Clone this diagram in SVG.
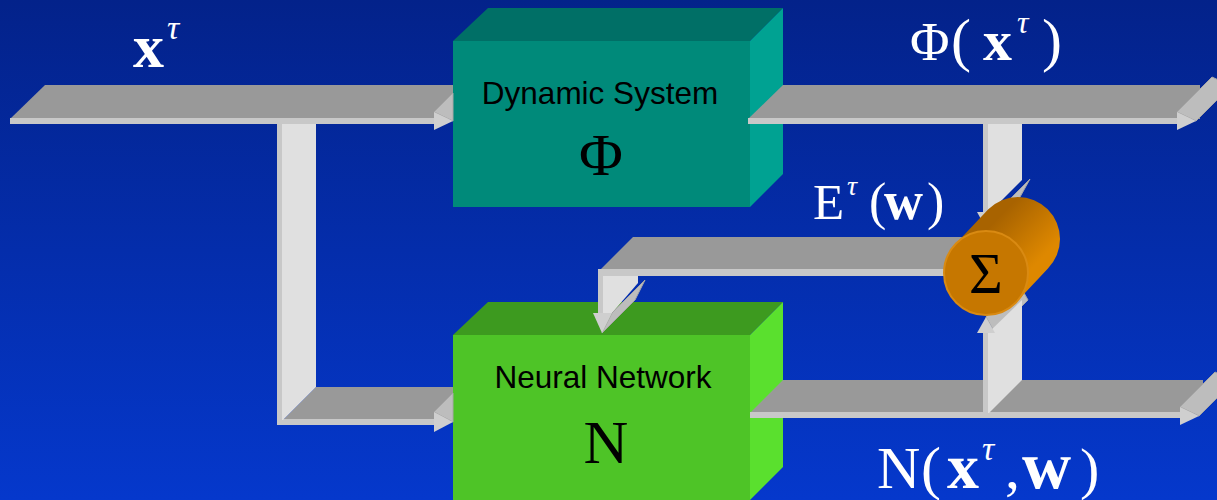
<svg xmlns="http://www.w3.org/2000/svg" width="1217" height="500" viewBox="0 0 1217 500">
<defs>
<linearGradient id="bg" x1="0" y1="0" x2="0" y2="1">
<stop offset="0" stop-color="#03228a"/>
<stop offset="1" stop-color="#0538cc"/>
</linearGradient>
<linearGradient id="cylBody" x1="0" y1="0" x2="1" y2="1">
<stop offset="0.3" stop-color="#a86300"/>
<stop offset="0.7" stop-color="#de8800"/>
</linearGradient>
<style>
.face{fill:#999999}
.strip{fill:#c8c8c8}
.bar{fill:#e0e0e0}
.barEdge{fill:#c8c8c8}
.head{fill:#cfcfcf}
.headX{fill:#bdbdbd;stroke:#a6a6a6;stroke-width:1}
.lbl{font-family:"Liberation Serif","Times New Roman",serif;fill:#ffffff}
.b{font-weight:bold}
.i{font-style:italic}
.sans{font-family:"Liberation Sans",Arial,sans-serif;font-size:31.5px;fill:#000;text-anchor:middle}
.sym{font-family:"Liberation Serif","Times New Roman",serif;fill:#000;text-anchor:middle}
</style>
</defs>
<rect x="0" y="0" width="1217" height="500" fill="url(#bg)"/>

<g id="node-dynamic-system">
<polygon fill="#006f66" points="453,41 488,8 783,8 750,41"/>
<polygon fill="#00a292" points="750,41 783,8 783,174 750,207"/>
<rect x="453" y="41" width="297" height="166" fill="#008a7a"/>
<text class="sans" x="600" y="104">Dynamic System</text>
<text class="sym" x="601" y="175" font-size="60">Φ</text>
</g>

<g id="node-neural-network">
<polygon fill="#3d9a1f" points="453,335 488,302 783,302 750,335"/>
<polygon fill="#5ae02e" points="750,335 783,302 783,467 750,500"/>
<rect x="453" y="335" width="297" height="165" fill="#4ec427"/>
<text class="sans" x="603" y="388">Neural Network</text>
<text class="sym" x="606" y="463" font-size="62">N</text>
</g>

<g id="connectors">
<g id="arrow-in-top">
<polygon class="face" points="10,119 45,85 453,85 453,119"/>
<rect class="strip" x="10" y="118" width="426" height="6"/>
<polygon class="headX" points="434,112 453,93 453,121"/>
<polygon class="head" points="434,112 453,121 434,130"/>
</g>
<g id="arrow-in-bottom">
<polygon class="face" points="283,420 316,387 453,387 453,420"/>
<rect class="strip" x="277" y="419" width="160" height="6"/>
<polygon class="bar" points="282,124 316,124 316,387 283,420 282,420"/>
<rect class="barEdge" x="277" y="124" width="5" height="301"/>
<polygon class="headX" points="434,412 453,393 453,422"/>
<polygon class="head" points="434,412 453,422 434,432"/>
</g>
<g id="arrow-phi-out">
<polygon class="face" points="748,119 783,85 1200,85 1200,119"/>
<rect class="strip" x="748" y="118" width="431" height="6"/>
<polygon class="headX" points="1177,112 1212,77 1231,86 1196,121"/>
<polygon class="head" points="1177,112 1196,121 1177,130"/>
</g>
<g id="arrow-n-out">
<polygon class="face" points="750,413 783,380 1203,380 1203,413"/>
<rect class="strip" x="750" y="412" width="432" height="6"/>
<polygon class="headX" points="1180,407 1215,372 1234,381 1199,416"/>
<polygon class="head" points="1180,407 1199,416 1180,425"/>
</g>
<g id="arrow-phi-sigma">
<polygon class="bar" points="987,124 1022,124 1022,180 989,213 987,213"/>
<rect class="barEdge" x="983" y="124" width="5" height="89"/>
<polygon class="headX" points="997,212 1030,179 1020,197 987,230"/>
<polygon class="head" points="977,212 997,212 987,230"/>
</g>
<g id="arrow-n-sigma">
<polygon class="headX" points="986,317 995,333 1028,300 1019,284"/>
<polygon class="bar" points="988,333 1022,300 1022,380 989,413 988,413"/>
<rect class="barEdge" x="983" y="333" width="5" height="85"/>
<polygon class="head" points="977,333 995,333 986,317"/>
</g>
<g id="arrow-error">
<polygon class="face" points="600,270 633,237 965,237 965,270"/>
<rect class="strip" x="598" y="269" width="360" height="7"/>
<polygon class="bar" points="603,276 638,276 638,283 612,313 603,313"/>
<rect class="barEdge" x="598" y="276" width="5" height="37"/>
<polygon class="headX" points="612,313 645,280 635,300 602,333"/>
<polygon class="head" points="593,313 612,313 602,333"/>
</g>
</g>

<g id="node-sigma">
<path d="M956.3,243.3 L988.3,209.3 A42 42 0 0 1 1047.7,268.7 L1015.7,302.7 Z" fill="url(#cylBody)"/>
<circle cx="986" cy="273" r="42" fill="#c67700" stroke="#d98a12" stroke-width="2"/>
<text class="sym" x="986" y="293" font-size="58">Σ</text>
</g>

<g id="labels">
<text class="lbl"><tspan class="b" x="133" y="67" font-size="62">x</tspan><tspan class="i" x="167" y="39" font-size="34">τ</tspan></text>
<text class="lbl"><tspan x="910" y="60" font-size="54">Φ</tspan><tspan x="951" y="60" font-size="60">(</tspan><tspan class="b" x="983" y="60" font-size="58">x</tspan><tspan class="i" x="1017" y="33" font-size="32">τ</tspan><tspan x="1042" y="60" font-size="60">)</tspan></text>
<text class="lbl"><tspan x="813" y="219" font-size="51">E</tspan><tspan class="i" x="847" y="195" font-size="28">τ</tspan><tspan x="869" y="219" font-size="52">(</tspan><tspan class="b" x="884" y="219" font-size="54">w</tspan><tspan x="927" y="219" font-size="52">)</tspan></text>
<text class="lbl"><tspan x="877" y="488" font-size="60">N</tspan><tspan x="921" y="488" font-size="60">(</tspan><tspan class="b" x="947" y="488" font-size="64">x</tspan><tspan class="i" x="982" y="460" font-size="34">τ</tspan><tspan x="1005" y="488" font-size="60">,</tspan><tspan class="b" x="1022" y="488" font-size="68">w</tspan><tspan x="1080" y="488" font-size="58">)</tspan></text>
</g>
</svg>
